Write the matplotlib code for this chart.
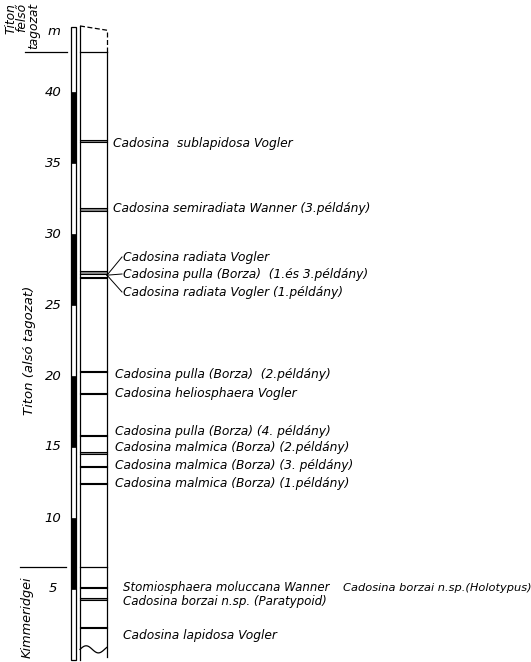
import matplotlib
matplotlib.use("Agg")
import matplotlib.pyplot as plt
import numpy as np

# ---------------- data (metres) ----------------
scale_ticks = [5, 10, 15, 20, 25, 30, 35, 40]
black_intervals = [(35, 40), (25, 30), (15, 20), (5, 10)]
column_top = 44.6
column_base = 0.0
stage_boundaries = [42.8, 6.55]

# fossil horizons: (upper, lower) in metres
horizon_tops = [36.6, 31.85, 27.39, 26.97, 20.38, 18.80, 15.88, 14.62, 13.68, 12.48, 5.14, 4.35, 2.32]
horizon_bots = [36.45, 31.65, 27.20, 26.93, 20.30, 18.76, 15.78, 14.52, 13.58, 12.42, 5.10, 4.22, 2.28]

species = [
    "Cadosina  sublapidosa Vogler",
    "Cadosina semiradiata Wanner (3.példány)",
    "Cadosina radiata Vogler",
    "Cadosina pulla (Borza)  (1.és 3.példány)",
    "Cadosina radiata Vogler (1.példány)",
    "Cadosina pulla (Borza)  (2.példány)",
    "Cadosina heliosphaera Vogler",
    "Cadosina pulla (Borza) (4. példány)",
    "Cadosina malmica (Borza) (2.példány)",
    "Cadosina malmica (Borza) (3. példány)",
    "Cadosina malmica (Borza) (1.példány)",
    "Stomiosphaera moluccana Wanner",
    "Cadosina borzai n.sp. (Paratypoid)",
    "Cadosina lapidosa Vogler",
]
extra_label = "Cadosina borzai n.sp.(Holotypus)"
stage_labels = ["Titon\nfelső\ntagozat", "Titon (alsó tagozat)", "Kimmeridgei"]
unit_label = "m"

# ---------------- layout ----------------
W, H = 531, 662
PX = 14.2          # pixels per metre
Y0 = 660.0         # pixel row of 0 m
def m(ypx):
    return (Y0 - ypx) / PX

fig = plt.figure(figsize=(W / 100, H / 100), dpi=100)
ax = fig.add_axes([0, 0, 1, 1])
ax.set_xlim(0, W)
ax.set_ylim(m(H), m(0))
ax.axis("off")

lw = 0.9
k = "black"
tfont = dict(family="DejaVu Sans", style="italic", fontsize=8.8, color=k)

# scale strip
sx0, sx1 = 71, 76
ax.add_patch(plt.Rectangle((sx0, column_base), sx1 - sx0, column_top - column_base,
                           facecolor="white", edgecolor=k, lw=lw))
for lo, hi in black_intervals:
    ax.add_patch(plt.Rectangle((sx0, lo), sx1 - sx0, hi - lo, facecolor=k, edgecolor=k, lw=0.5))

# main column
cx0, cx1 = 80, 107
top_l, top_r = column_top + 0.05, column_top - 0.25
ax.plot([cx0, cx0], [column_base, top_l], color=k, lw=lw)
ax.plot([cx1, cx1], [column_base + 0.2, stage_boundaries[0]], color=k, lw=lw)
ax.plot([cx1, cx1], [stage_boundaries[0], top_r], color=k, lw=lw, ls=(0, (4, 2)))
ax.plot([cx0, cx1], [top_l, top_r], color=k, lw=lw, ls=(0, (4, 2)))
# wavy base
wx = np.linspace(cx0, cx1, 60)
wy = 0.75 + 0.25 * np.sin((wx - cx0) / (cx1 - cx0) * 2.2 * np.pi)
ax.plot(wx, wy, color=k, lw=lw)

# stage boundaries
ax.plot([cx0, cx1], [stage_boundaries[0]] * 2, color=k, lw=lw)
ax.plot([25, 67], [stage_boundaries[0]] * 2, color=k, lw=lw)
ax.plot([cx0, cx1], [stage_boundaries[1]] * 2, color=k, lw=lw)
ax.plot([20, 66], [stage_boundaries[1]] * 2, color=k, lw=lw)

# horizons
for t, b in zip(horizon_tops, horizon_bots):
    ax.add_patch(plt.Rectangle((cx0, b), cx1 - cx0, t - b, facecolor="#888888", edgecolor="none"))
    ax.plot([cx0, cx1], [t, t], color=k, lw=0.8)
    ax.plot([cx0, cx1], [b, b], color=k, lw=0.8)

# species labels
label_x = [113, 113, 123, 123, 123, 115, 115, 115, 115, 115, 115, 123, 123, 123]
label_ypx = [143, 208, 257, 274, 292, 374, 393, 431, 448, 466, 484, 588, 602, 635]
label_fs = [8.8] * 11 + [8.5, 8.6, 8.8]
for name, x, ypx, fs in zip(species, label_x, label_ypx, label_fs):
    ax.text(x, m(ypx), name, ha="left", va="center", **{**tfont, "fontsize": fs})
ax.text(343, m(588), extra_label, ha="left", va="center", **{**tfont, "fontsize": 8.2})

# connectors for the 27 m group
jx, jy = cx1, 27.1
for ypx in (257, 274, 292):
    ax.plot([jx, 122], [jy, m(ypx)], color=k, lw=0.7)

# scale numbers
for v in scale_ticks:
    ax.text(53, v, str(v), ha="center", va="center", family="DejaVu Sans",
            style="italic", fontsize=9.5, color=k)
ax.text(54, m(31), unit_label, ha="center", va="center", family="DejaVu Sans",
        style="italic", fontsize=9.5, color=k)

# stage names
ax.text(22, m(3), stage_labels[0], rotation=90, ha="center", va="top",
        multialignment="right", linespacing=0.85, **{**tfont, "fontsize": 8.8})
ax.text(29, m(350), stage_labels[1], rotation=90, ha="center", va="center",
        **{**tfont, "fontsize": 9.5})
ax.text(27, m(617), stage_labels[2], rotation=90, ha="center", va="center",
        **{**tfont, "fontsize": 9.3})

fig.savefig("out.png", dpi=100)
